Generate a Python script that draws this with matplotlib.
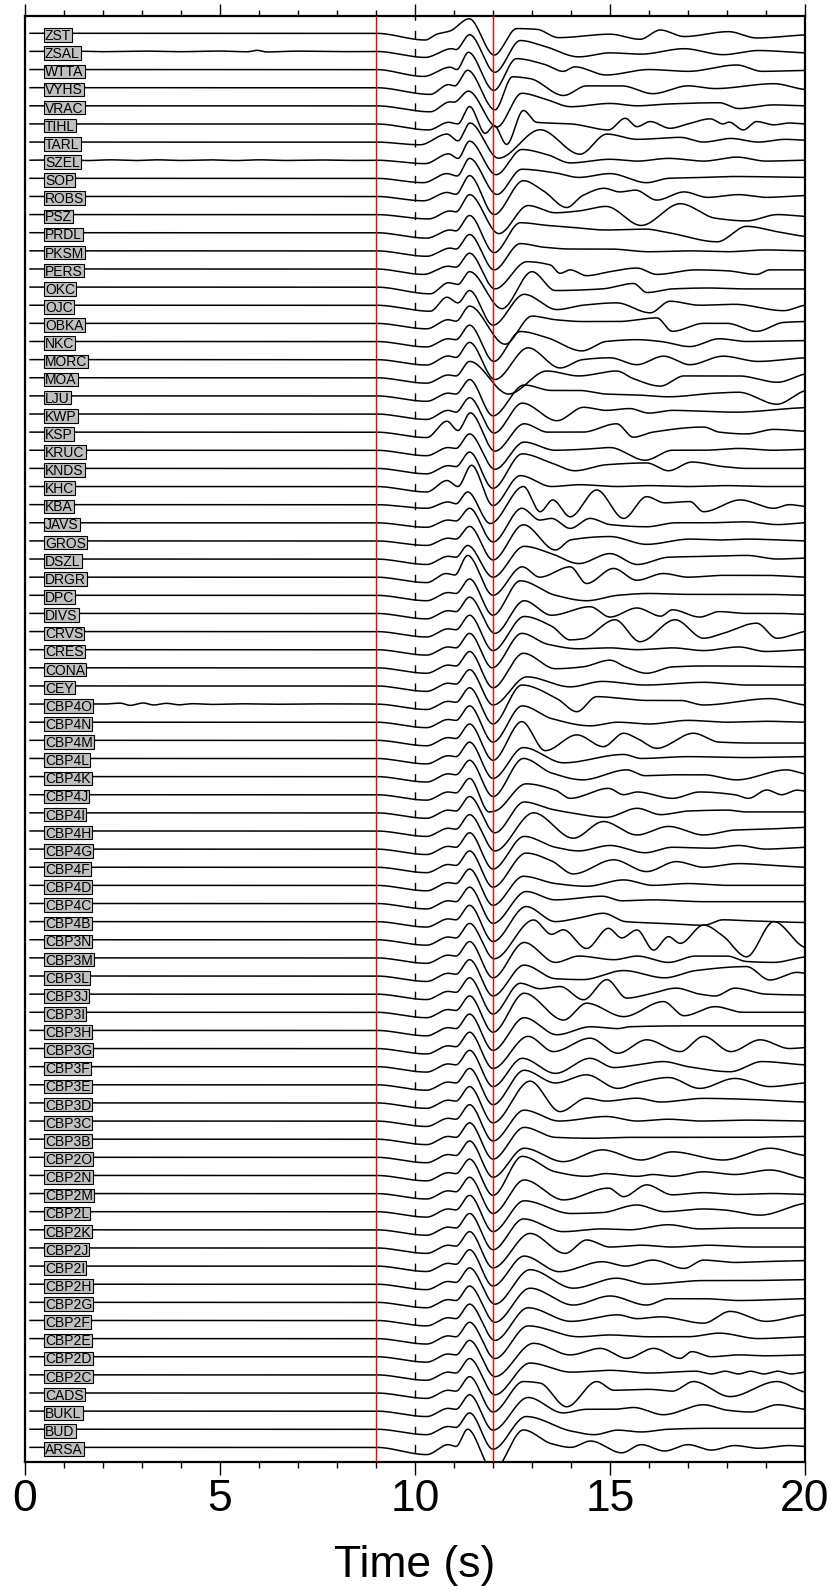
import numpy as np
import matplotlib
matplotlib.use("Agg")
import matplotlib.pyplot as plt
from matplotlib.patches import Rectangle
from matplotlib.ticker import MultipleLocator

plt.rcParams['font.family'] = ['Liberation Sans', 'DejaVu Sans']
plt.rcParams['lines.scale_dashes'] = False

# ---------------- data ----------------
stations = ["ZST", "ZSAL", "WTTA", "VYHS", "VRAC", "TIHL", "TARL", "SZEL", "SOP", "ROBS",
            "PSZ", "PRDL", "PKSM", "PERS", "OKC", "OJC", "OBKA", "NKC", "MORC", "MOA",
            "LJU", "KWP", "KSP", "KRUC", "KNDS", "KHC", "KBA", "JAVS", "GROS", "DSZL",
            "DRGR", "DPC", "DIVS", "CRVS", "CRES", "CONA", "CEY", "CBP4O", "CBP4N", "CBP4M",
            "CBP4L", "CBP4K", "CBP4J", "CBP4I", "CBP4H", "CBP4G", "CBP4F", "CBP4D", "CBP4C", "CBP4B",
            "CBP3N", "CBP3M", "CBP3L", "CBP3J", "CBP3I", "CBP3H", "CBP3G", "CBP3F", "CBP3E", "CBP3D",
            "CBP3C", "CBP3B", "CBP2O", "CBP2N", "CBP2M", "CBP2L", "CBP2K", "CBP2J", "CBP2I", "CBP2H",
            "CBP2G", "CBP2F", "CBP2E", "CBP2D", "CBP2C", "CADS", "BUKL", "BUD", "ARSA"]

# trace start time and quiet pre-event level
trace_start = 0.13
quiet_end = 9.0

# small pre-event wiggles (time s, amplitude in trace spacings)
pre_event = {
    "ZSAL": [(1.2, 0.02), (2.0, -0.015), (3.0, 0.02), (4.0, -0.015), (5.0, 0.02), (5.7, -0.02),
             (5.95, 0.06), (6.2, -0.03), (7.0, 0.015), (8.0, -0.015)],
    "SZEL": [(1.0, 0.02), (1.6, -0.02), (2.2, 0.02), (2.8, -0.02), (3.4, 0.02), (4.0, -0.015),
             (4.7, 0.02), (5.4, -0.02), (6.0, 0.02), (6.7, -0.015), (7.5, 0.015), (8.2, -0.015)],
    "CBP4O": [(2.0, 0.0), (2.44, 0.05), (2.7, -0.07), (3.03, 0.06), (3.3, -0.05), (3.63, 0.04),
              (3.95, -0.04), (4.3, 0.02), (4.8, -0.02), (5.5, 0.015), (6.5, -0.01), (7.5, 0.01)],
}

# extrema: (time s, amplitude in trace spacings)
picks = {
"ZST": [(10.26,-0.37),(10.56,-0.05),(10.9,0.13),(11.39,0.8),(12.03,-1.2),(12.61,0.26),(13.12,0.22),(13.68,-0.24),(15.0,-0.05),(15.77,-0.33),(16.29,0.18),(16.9,-0.18),(18.04,0.09),(18.76,-0.26),(20,-0.09)],
"ZSAL": [(10.26,-0.33),(10.94,0.15),(11.05,0.1),(11.4,0.92),(12.05,-1.15),(12.7,0.6),(13.3,0.3),(14.2,-0.3),(15.0,-0.08),(15.8,-0.15),(16.9,0.15),(17.9,-0.18),(18.8,0.05),(20,-0.08)],
"WTTA": [(10.22,-0.38),(10.9,0.13),(11.07,0.0),(11.37,0.95),(12.02,-1.15),(12.6,0.6),(13.3,0.3),(13.8,-0.1),(14.1,0.15),(14.9,-0.3),(16.0,0.0),(17.0,-0.1),(18.25,0.25),(18.9,-0.1),(20,-0.05)],
"VYHS": [(10.39,-0.37),(10.86,0.17),(11.02,0.1),(11.35,0.96),(12.05,-1.22),(12.5,0.6),(12.95,0.5),(13.81,-0.43),(14.4,0.1),(15.3,0.1),(16.1,-0.33),(17.0,0.1),(17.7,-0.05),(19.2,0.22),(20,-0.1)],
"VRAC": [(10.39,-0.33),(10.9,0.22),(11.0,0.2),(11.37,0.81),(12.1,-1.17),(12.74,0.69),(13.3,0.4),(14.0,-0.05),(15.0,0.13),(15.7,0.0),(16.5,0.1),(17.8,0.17),(18.3,-0.15),(19.2,0.05),(20,0.0)],
"TIHL": [(10.35,-0.33),(10.86,0.09),(11.1,0.0),(11.4,0.96),(11.8,-0.52),(12.03,-0.09),(12.35,-1.13),(12.78,0.74),(13.12,0.09),(13.4,0.05),(14.0,0.0),(14.96,-0.33),(15.39,0.31),(15.69,-0.15),(16.03,0.13),(16.54,-0.24),(17.0,0.0),(17.57,0.28),(17.9,0.0),(18.05,0.1),(18.42,-0.33),(18.76,0.13),(19.2,-0.05),(19.6,0.05),(20,0.0)],
"TARL": [(10.13,-0.15),(10.82,0.44),(11.1,0.07),(11.41,1.05),(12.14,-0.89),(13.21,0.68),(14.23,-0.67),(14.92,0.44),(15.7,0.15),(16.8,0.26),(17.4,0.0),(18.1,0.2),(18.8,0.0),(19.5,0.15),(20,0.1)],
"SZEL": [(10.26,-0.19),(10.86,0.35),(11.1,0.1),(11.4,1.05),(12.08,-0.8),(12.74,0.59),(13.4,0.3),(13.98,-0.15),(15.0,0.05),(15.7,-0.05),(16.5,0.1),(17.4,-0.05),(18.25,0.17),(19.0,-0.05),(20,0.0)],
"SOP": [(10.22,-0.24),(10.82,0.26),(11.08,0.13),(11.4,1.1),(12.1,-0.89),(12.74,0.5),(13.6,0.3),(14.2,0.05),(15.0,0.26),(15.94,-0.24),(16.5,0.0),(17.4,0.05),(18.2,0.1),(20,0.05)],
"ROBS": [(10.22,-0.24),(10.82,0.22),(11.05,0.12),(11.4,1.15),(12.03,-1.0),(12.78,0.87),(13.29,0.31),(13.89,-0.61),(14.3,0.05),(14.85,0.45),(15.25,0.25),(15.65,0.35),(16.2,-0.2),(16.9,0.25),(17.5,-0.05),(18.3,0.1),(19.0,-0.05),(20,0.05)],
"PSZ": [(10.35,-0.24),(10.9,0.2),(11.05,0.15),(11.4,1.1),(12.15,-1.05),(12.9,0.5),(13.6,0.1),(14.2,0.2),(14.9,0.45),(15.8,-0.6),(16.8,0.6),(17.7,-0.2),(18.5,-0.35),(19.3,0.0),(20,-0.1)],
"PRDL": [(10.3,-0.3),(10.9,0.15),(11.05,0.1),(11.4,0.95),(12.03,-1.1),(12.7,0.55),(13.4,0.4),(14.0,0.3),(14.9,0.15),(15.9,0.2),(16.5,0.0),(17.75,-0.5),(18.5,0.35),(19.3,0.05),(20,-0.2)],
"PKSM": [(10.3,-0.3),(10.9,0.15),(11.05,0.1),(11.4,0.9),(12.03,-1.05),(12.7,0.4),(13.3,0.2),(14.0,0.1),(15.0,0.1),(16.0,-0.05),(17.0,0.0),(18.0,-0.05),(19,0.05),(20,0.0)],
"PERS": [(10.22,-0.3),(10.85,0.15),(11.05,0.1),(11.4,0.87),(12.05,-1.1),(12.87,0.4),(13.47,0.22),(13.72,-0.24),(13.98,-0.05),(14.4,-0.37),(15.0,-0.15),(15.69,0.05),(16.2,-0.3),(17.2,-0.05),(18.0,-0.1),(18.76,-0.3),(19.1,-0.05),(20,-0.05)],
"OKC": [(10.39,-0.37),(10.86,0.24),(11.1,0.15),(11.4,0.85),(12.23,-1.19),(13.0,0.85),(13.6,-0.19),(14.8,-0.1),(15.6,0.2),(15.95,-0.3),(16.6,-0.1),(17.5,-0.05),(18.5,-0.1),(20,-0.1)],
"OJC": [(10.39,-0.33),(10.82,0.44),(11.1,0.13),(11.4,0.81),(12.0,-1.1),(12.8,0.6),(13.64,-0.24),(14.3,0.0),(15.17,0.13),(16.03,-0.42),(16.54,0.22),(17.3,0.0),(18.2,0.05),(19.45,-0.3),(20,0.0)],
"OBKA": [(10.3,-0.3),(10.85,0.2),(11.05,0.12),(11.4,0.95),(12.31,-1.15),(13.0,0.4),(13.6,0.2),(14.3,0.1),(15.2,0.1),(16.2,0.3),(16.6,-0.44),(17.4,0.0),(18.0,0.0),(18.76,-0.44),(19.45,0.05),(20,0.1)],
"NKC": [(10.3,-0.3),(10.85,0.15),(11.05,0.1),(11.4,0.9),(12.02,-1.1),(12.7,0.55),(13.4,0.2),(14.28,-0.52),(14.9,0.0),(15.7,0.1),(16.3,0.0),(17.05,-0.28),(17.8,0.15),(18.5,0.0),(20,0.05)],
"MORC": [(10.3,-0.3),(10.85,0.2),(11.05,0.12),(11.4,0.95),(12.05,-1.1),(12.9,0.65),(13.72,-0.46),(14.3,0.0),(15.0,0.1),(15.69,-0.28),(16.37,0.19),(17.05,-0.28),(17.9,0.19),(18.8,-0.1),(20,0.1)],
"MOA": [(10.3,-0.3),(10.85,0.15),(11.05,0.1),(11.4,0.9),(12.4,-0.9),(13.38,0.37),(14.2,0.1),(15.17,0.37),(15.6,-0.05),(16.29,-0.46),(16.9,0.1),(17.6,0.1),(18.3,0.1),(19.3,-0.25),(20,0.2)],
"LJU": [(10.3,-0.3),(10.85,0.15),(11.05,0.1),(11.4,0.9),(12.0,-1.1),(12.8,0.6),(13.5,0.3),(14.2,0.3),(14.9,0.1),(15.7,0.05),(16.5,-0.05),(17.7,0.15),(18.3,0.2),(19.28,-0.46),(20,0.28)],
"KWP": [(10.3,-0.3),(10.85,0.2),(11.05,0.1),(11.4,0.9),(12.03,-1.05),(12.75,0.6),(13.64,-0.37),(14.32,0.37),(14.9,0.2),(15.5,0.3),(16.0,0.05),(16.6,0.2),(17.4,0.15),(18.2,0.1),(20,0.35)],
"KSP": [(10.3,-0.3),(10.82,0.6),(11.1,0.09),(11.42,1.06),(12.05,-1.05),(12.8,0.46),(13.4,0.0),(14.3,0.0),(15.17,0.46),(15.6,-0.28),(16.1,0.0),(17.4,0.28),(17.8,0.0),(18.5,-0.1),(19.2,0.15),(20,0.05)],
"KRUC": [(10.3,-0.3),(10.85,0.15),(11.05,0.1),(11.4,0.9),(12.05,-1.05),(12.8,0.45),(13.6,0.0),(14.3,0.05),(15.0,0.15),(15.9,-0.55),(16.6,0.0),(17.4,0.0),(18.3,0.1),(19.2,0.0),(20,0.05)],
"KNDS": [(10.3,-0.3),(10.85,0.15),(11.05,0.1),(11.4,0.9),(12.0,-1.1),(12.75,0.8),(13.5,0.3),(14.1,-0.13),(14.9,0.2),(15.94,0.3),(16.5,-0.13),(17.1,0.35),(17.9,0.1),(18.5,0.0),(20,0.0)],
"KHC": [(10.3,-0.3),(10.82,0.33),(11.1,0.0),(11.45,1.17),(12.0,-1.05),(12.7,0.6),(13.5,0.0),(14.2,0.1),(15.2,0.0),(16.0,0.05),(17.0,0.0),(18,0.05),(19.0,0.0),(20,0.0)],
"KBA": [(10.3,-0.2),(10.85,0.15),(11.05,0.05),(11.35,0.7),(11.93,-1.04),(12.78,1.0),(13.21,-0.39),(13.53,0.26),(13.98,-0.67),(14.66,0.81),(15.35,-0.76),(15.94,0.44),(16.4,0.1),(17.05,0.17),(17.4,-0.39),(18.34,0.26),(19.2,-0.2),(19.6,0.0),(20,-0.1)],
"JAVS": [(10.3,-0.25),(10.85,0.15),(11.05,0.1),(11.4,0.8),(12.0,-1.06),(12.74,0.8),(13.2,0.15),(13.5,0.24),(13.98,-0.31),(14.49,0.24),(15.0,-0.1),(15.94,-0.22),(16.7,0.0),(17.5,0.0),(18.5,0.05),(19.3,-0.1),(20,0.0)],
"GROS": [(10.3,-0.25),(10.85,0.15),(11.05,0.1),(11.4,0.8),(12.0,-1.05),(12.78,0.89),(13.6,-0.5),(14.0,0.06),(15.0,0.24),(15.94,-0.19),(17.05,0.1),(17.8,0.05),(18.5,0.1),(20,0.0)],
"DSZL": [(10.3,-0.3),(10.85,0.15),(11.05,0.1),(11.35,0.75),(12.0,-1.0),(12.8,0.7),(13.5,0.3),(14.2,-0.25),(15.0,0.3),(15.7,-0.3),(16.5,0.1),(17.5,0.15),(18.5,0.2),(19.3,0.0),(20,0.05)],
"DRGR": [(10.3,-0.3),(10.8,0.2),(11.02,0.12),(11.35,1.2),(12.0,-1.0),(12.75,0.57),(13.2,0.0),(13.98,0.57),(14.4,-0.35),(15.09,0.48),(15.69,-0.17),(16.37,0.2),(17.0,0.0),(17.9,0.1),(19.0,0.1),(20,0.0)],
"DPC": [(10.3,-0.3),(10.85,0.15),(11.05,0.1),(11.4,0.9),(12.0,-1.1),(12.7,0.8),(13.6,0.0),(14.4,-0.3),(15.2,0.0),(16.0,0.1),(17.0,0.05),(18.0,0.05),(19.0,0.05),(20,0.0)],
"DIVS": [(10.3,-0.3),(10.85,0.15),(11.05,0.1),(11.4,0.9),(12.05,-1.1),(12.8,0.7),(13.5,-0.1),(14.49,0.37),(15.0,-0.2),(15.69,0.3),(16.3,-0.15),(16.6,0.2),(17.3,-0.2),(17.8,0.1),(18.5,0.0),(19.3,0.0),(20,-0.05)],
"CRVS": [(10.3,-0.3),(10.85,0.15),(11.05,0.1),(11.4,0.9),(12.0,-1.05),(12.8,0.83),(13.5,0.3),(13.98,-0.46),(14.3,-0.4),(15.13,0.65),(15.77,-0.56),(16.67,0.65),(17.4,-0.37),(17.9,-0.1),(18.76,0.46),(19.28,-0.37),(20,0.0)],
"CRES": [(10.3,-0.3),(10.85,0.15),(11.05,0.1),(11.4,0.9),(11.98,-1.0),(12.74,0.9),(13.4,0.3),(14.2,0.05),(15.0,0.1),(15.7,0.0),(16.6,0.1),(17.4,-0.05),(18.3,0.15),(19.0,-0.1),(20,0.0)],
"CONA": [(10.3,-0.3),(10.85,0.15),(11.05,0.1),(11.4,0.9),(12.0,-1.1),(12.78,0.8),(13.6,-0.05),(14.3,0.05),(15.0,0.42),(15.4,0.05),(15.94,-0.3),(16.6,0.05),(17.4,0.1),(18.3,0.1),(20,0.05)],
"CEY": [(10.3,-0.3),(10.85,0.15),(11.05,0.1),(11.4,0.9),(12.0,-1.05),(12.87,0.5),(13.98,-0.05),(14.8,0.25),(15.9,0.05),(17.4,0.2),(18.5,0.05),(20,0.05)],
"CBP4O": [(10.3,-0.3),(10.85,0.15),(11.05,0.1),(11.4,0.9),(12.0,-1.1),(12.74,1.05),(13.64,0.3),(14.15,-0.42),(14.66,0.41),(15.35,0.3),(15.94,0.2),(16.8,0.2),(17.4,-0.05),(19.1,0.3),(20,-0.05)],
"CBP4N": [(10.3,-0.3),(10.85,0.15),(11.05,0.1),(11.4,0.9),(12.0,-1.1),(12.75,0.9),(13.5,0.2),(14.5,-0.2),(15.2,0.0),(16.0,-0.1),(17.0,0.1),(18.0,0.0),(19,0.05),(20,0.0)],
"CBP4M": [(10.3,-0.3),(10.85,0.15),(11.05,0.1),(11.4,0.9),(12.0,-1.1),(12.74,1.03),(13.34,-0.57),(14.15,0.3),(14.83,-0.35),(15.35,0.39),(15.7,0.1),(16.2,-0.44),(17.14,0.39),(17.8,-0.1),(18.7,-0.15),(20,-0.15)],
"CBP4L": [(10.3,-0.3),(10.85,0.15),(11.05,0.1),(11.4,0.9),(12.0,-1.1),(12.78,0.6),(13.81,-0.24),(15.35,0.22),(15.8,0.0),(17.0,0.1),(18.5,0.05),(20,0.1)],
"CBP4K": [(10.3,-0.3),(10.85,0.15),(11.05,0.1),(11.4,0.9),(12.0,-1.1),(12.78,1.0),(13.5,0.2),(14.3,-0.18),(15.43,0.37),(15.9,0.05),(16.6,0.1),(17.4,0.1),(18.25,-0.18),(19.53,0.37),(20,0.15)],
"CBP4J": [(10.3,-0.3),(10.85,0.15),(11.05,0.1),(11.4,0.9),(11.9,-0.95),(12.05,-0.9),(12.85,0.6),(13.6,0.25),(13.98,-0.2),(14.96,0.35),(15.35,0.0),(15.7,0.15),(16.6,-0.2),(17.3,0.15),(18.2,0.0),(18.55,-0.2),(19.02,0.26),(19.4,0.0),(19.8,0.25),(20,0.2)],
"CBP4I": [(10.3,-0.3),(10.85,0.15),(11.05,0.1),(11.4,0.9),(12.05,-1.1),(12.8,0.6),(13.5,0.2),(14.0,0.0),(14.9,-0.25),(15.7,0.25),(16.3,-0.1),(17.0,0.1),(18.0,0.15),(18.5,0.05),(19.5,0.05),(20,0.05)],
"CBP4H": [(10.3,-0.3),(10.85,0.15),(11.05,0.1),(11.4,0.9),(12.05,-1.1),(13.04,1.0),(14.06,-0.4),(14.83,0.52),(15.69,-0.22),(16.5,0.25),(17.4,-0.22),(18.2,0.05),(19.0,0.1),(20,0.2)],
"CBP4G": [(10.3,-0.3),(10.85,0.15),(11.05,0.1),(11.4,0.9),(12.0,-1.1),(12.8,0.7),(13.6,0.1),(14.2,-0.1),(15.0,0.2),(15.9,-0.2),(16.6,0.1),(17.6,0.05),(18.3,0.2),(19.0,0.0),(20,0.1)],
"CBP4F": [(10.3,-0.3),(10.85,0.15),(11.05,0.1),(11.4,0.9),(12.0,-1.1),(12.85,0.78),(13.5,0.35),(14.06,-0.37),(15.09,0.41),(15.94,-0.24),(16.7,0.31),(17.4,0.0),(18.3,0.2),(19.2,0.1),(20,0.0)],
"CBP4D": [(10.3,-0.3),(10.85,0.15),(11.05,0.1),(11.4,0.9),(12.0,-1.1),(12.78,0.5),(13.6,0.1),(14.4,-0.05),(15.35,0.3),(16.1,0.0),(17.0,0.1),(18.0,0.0),(20,0.0)],
"CBP4C": [(10.3,-0.3),(10.85,0.15),(11.05,0.1),(11.4,0.9),(12.0,-1.1),(12.85,0.66),(13.6,0.2),(14.8,0.4),(15.3,0.15),(16.1,0.2),(17.4,0.1),(20,0.1)],
"CBP4B": [(10.3,-0.3),(10.85,0.15),(11.05,0.1),(11.4,0.9),(12.0,-1.1),(12.85,0.83),(13.6,0.0),(14.2,0.2),(14.83,0.46),(15.4,0.0),(16.4,-0.1),(17.4,-0.2),(17.9,0.1),(18.5,0.05),(20,-0.05)],
"CBP3N": [(10.3,-0.3),(10.85,0.15),(11.05,0.1),(11.4,0.9),(12.03,-1.05),(13.04,1.09),(13.5,0.3),(13.8,0.55),(14.4,-0.48),(14.96,0.63),(15.3,0.1),(15.69,0.54),(16.12,-0.57),(16.5,0.17),(16.8,-0.2),(17.4,0.81),(17.9,0.2),(18.5,-0.94),(19.2,1.0),(19.96,-0.39)],
"CBP3M": [(10.3,-0.3),(10.85,0.15),(11.05,0.1),(11.4,0.9),(12.0,-1.1),(12.8,0.85),(13.6,-0.25),(14.2,0.1),(15.1,-0.1),(15.7,0.1),(16.5,-0.25),(17.2,0.1),(18.0,0.1),(18.5,-0.2),(19.2,-0.25),(20,0.05)],
"CBP3L": [(10.3,-0.3),(10.85,0.15),(11.05,0.1),(11.4,0.9),(12.0,-1.1),(12.8,0.6),(13.6,-0.15),(14.3,-0.2),(15.35,0.3),(16.4,-0.1),(17.2,0.3),(18.5,0.52),(19.1,-0.22),(19.8,0.2),(20,0.15)],
"CBP3J": [(10.3,-0.3),(10.85,0.15),(11.05,0.1),(11.4,0.9),(12.0,-1.1),(12.7,0.6),(13.2,0.3),(13.72,0.42),(14.32,-0.31),(14.92,0.8),(15.43,-0.22),(16.0,0.0),(16.7,0.33),(17.3,0.0),(17.7,-0.1),(18.2,0.33),(19.0,0.0),(20,-0.05)],
"CBP3I": [(10.3,-0.3),(10.85,0.15),(11.05,0.1),(11.4,0.9),(12.0,-1.1),(12.8,1.05),(13.81,-0.43),(14.4,0.5),(15.35,-0.24),(16.37,0.59),(16.9,-0.19),(17.7,0.31),(18.4,0.0),(20,0.0)],
"CBP3H": [(10.3,-0.3),(10.85,0.15),(11.05,0.1),(11.4,0.9),(12.0,-1.1),(12.8,0.7),(13.64,-0.24),(14.5,0.2),(15.2,0.1),(15.5,0.2),(17.0,0.25),(18.5,0.25),(20,0.25)],
"CBP3G": [(10.3,-0.3),(10.85,0.15),(11.05,0.1),(11.4,0.9),(12.0,-1.1),(12.9,0.67),(13.55,-0.17),(14.49,0.57),(15.2,-0.26),(15.94,0.48),(16.8,-0.17),(17.4,0.67),(18.1,-0.17),(18.85,0.48),(19.6,0.0),(20,0.05)],
"CBP3F": [(10.3,-0.3),(10.85,0.15),(11.05,0.1),(11.4,0.9),(12.0,-1.1),(12.75,0.46),(13.6,-0.37),(14.49,0.46),(15.1,-0.05),(15.7,0.1),(16.37,0.28),(17.0,0.0),(18.08,-0.28),(18.9,0.28),(20,0.1)],
"CBP3E": [(10.3,-0.3),(10.85,0.15),(11.05,0.1),(11.4,0.9),(12.0,-1.1),(12.8,0.8),(13.6,0.1),(14.4,0.55),(15.2,-0.2),(15.7,0.1),(16.5,0.4),(17.3,-0.2),(18.2,0.35),(19.1,-0.1),(20,0.1)],
"CBP3D": [(10.3,-0.3),(10.85,0.15),(11.05,0.1),(11.4,0.9),(12.0,-1.1),(12.95,1.2),(13.72,-0.48),(14.4,0.26),(14.9,0.1),(15.69,0.26),(16.3,0.05),(17.4,0.25),(18.5,0.2),(20,0.05)],
"CBP3C": [(10.3,-0.3),(10.85,0.15),(11.05,0.1),(11.4,0.9),(12.0,-1.1),(12.8,0.6),(13.7,0.0),(14.9,0.25),(15.7,0.0),(16.5,0.1),(17.3,0.0),(18.5,0.05),(20,0.0)],
"CBP3B": [(10.3,-0.3),(10.85,0.15),(11.05,0.1),(11.4,0.9),(12.0,-1.1),(12.8,0.65),(13.6,0.1),(14.5,0.05),(15.5,0.1),(17.0,0.1),(18.5,0.1),(20,0.15)],
"CBP2O": [(10.3,-0.3),(10.85,0.15),(11.05,0.1),(11.4,0.9),(12.0,-1.1),(12.8,0.5),(13.8,-0.24),(14.8,0.41),(15.8,-0.15),(16.6,0.3),(17.9,-0.15),(19.1,0.5),(20,0.1)],
"CBP2N": [(10.3,-0.3),(10.85,0.15),(11.05,0.1),(11.4,0.9),(12.0,-1.1),(12.75,1.05),(13.6,0.2),(14.4,-0.05),(14.9,0.1),(15.7,-0.05),(16.1,0.05),(16.6,-0.05),(17.4,0.2),(18.2,0.05),(19.1,0.3),(20,-0.15)],
"CBP2M": [(10.3,-0.3),(10.85,0.15),(11.05,0.1),(11.4,0.9),(12.0,-1.1),(12.8,0.75),(13.81,-0.35),(14.96,0.3),(15.35,-0.17),(15.94,0.48),(16.6,-0.07),(17.4,0.05),(18.25,-0.05),(19.2,0.0),(20,-0.05)],
"CBP2L": [(10.3,-0.3),(10.85,0.15),(11.05,0.1),(11.4,0.9),(12.0,-1.1),(12.8,0.6),(14.0,-0.1),(14.8,-0.05),(15.69,0.37),(16.4,0.0),(17.4,0.15),(17.9,0.1),(18.85,-0.19),(20,0.46)],
"CBP2K": [(10.3,-0.3),(10.85,0.15),(11.05,0.1),(11.4,0.9),(12.0,-1.1),(12.78,0.6),(13.8,-0.1),(14.8,0.05),(15.5,0.0),(16.5,0.28),(17.3,0.05),(18.3,0.1),(20,0.1)],
"CBP2J": [(10.3,-0.3),(10.85,0.15),(11.05,0.1),(11.4,0.9),(12.0,-1.1),(12.95,0.8),(13.85,-0.3),(14.4,0.44),(15.0,0.05),(15.8,0.15),(16.6,0.05),(17.5,0.15),(18.7,0.05),(20,0.05)],
"CBP2I": [(10.3,-0.3),(10.85,0.15),(11.05,0.1),(11.4,0.9),(12.0,-1.1),(12.8,0.55),(13.7,-0.31),(14.8,0.24),(15.4,0.0),(16.1,0.33),(16.9,-0.13),(17.4,0.33),(18.2,0.2),(19,0.25),(20,0.3)],
"CBP2H": [(10.3,-0.3),(10.85,0.15),(11.05,0.1),(11.4,0.9),(12.05,-1.1),(12.95,0.8),(14.06,-0.22),(15.17,0.33),(15.94,0.0),(17.4,0.2),(18.5,0.2),(20,0.25)],
"CBP2G": [(10.3,-0.3),(10.85,0.15),(11.05,0.1),(11.4,0.9),(12.05,-1.1),(12.95,0.78),(14.06,-0.15),(15.0,0.35),(15.94,-0.15),(16.5,0.2),(17.4,0.2),(18.3,0.1),(20,0.2)],
"CBP2F": [(10.3,-0.3),(10.85,0.15),(11.05,0.1),(11.4,0.9),(12.05,-1.1),(12.9,0.7),(14.0,-0.05),(15.2,0.31),(15.7,0.1),(16.3,0.2),(17.4,-0.15),(18.08,0.5),(19.0,-0.05),(20,0.31)],
"CBP2E": [(10.3,-0.3),(10.85,0.15),(11.05,0.1),(11.4,0.9),(12.05,-1.1),(12.9,0.7),(14.2,0.1),(15.0,0.2),(16.0,0.1),(17.0,0.1),(17.8,0.3),(18.8,0.0),(20,0.1)],
"CBP2D": [(10.3,-0.3),(10.85,0.15),(11.05,0.1),(11.4,0.9),(12.05,-1.1),(13.04,0.74),(13.98,0.1),(14.75,0.46),(15.43,-0.09),(16.12,0.46),(16.8,-0.09),(17.1,0.28),(17.6,0.0),(18.3,0.1),(19,0.05),(20,0.1)],
"CBP2C": [(10.3,-0.3),(10.85,0.15),(11.05,0.1),(11.4,0.9),(12.05,-1.1),(12.95,0.65),(14.0,0.15),(15.0,0.25),(16.0,0.1),(17.2,0.2),(17.6,0.05),(17.95,0.2),(18.3,0.05),(18.6,0.2),(18.95,0.05),(19.3,0.2),(19.65,0.05),(20,0.15)],
"CADS": [(10.3,-0.3),(10.85,0.15),(11.05,0.1),(11.4,0.9),(12.0,-1.05),(12.78,0.63),(13.2,0.55),(13.89,-0.76),(14.66,0.63),(15.1,0.15),(16.0,0.2),(16.6,0.1),(17.14,0.63),(18.08,-0.2),(19.28,0.63),(20,0.05)],
"BUKL": [(10.3,-0.3),(10.85,0.15),(11.05,0.1),(11.4,0.9),(12.0,-1.05),(12.9,0.75),(13.8,-0.1),(14.4,0.1),(15.1,0.1),(15.6,0.2),(16.37,-0.2),(17.4,0.35),(18.0,0.05),(18.6,-0.05),(19.3,0.35),(20,0.1)],
"BUD": [(10.3,-0.3),(10.85,0.15),(11.05,0.1),(11.4,0.9),(12.0,-1.1),(12.85,0.7),(14.0,-0.1),(14.6,-0.3),(15.2,-0.05),(15.8,-0.15),(16.5,0.0),(17.5,0.05),(18.5,0.05),(20,0.05)],
"ARSA": [(10.3,-0.4),(10.85,0.15),(11.05,0.05),(11.35,1.0),(12.0,-1.3),(12.78,0.96),(13.5,0.2),(14.0,0.0),(14.5,0.35),(15.3,-0.3),(15.8,0.15),(16.4,-0.2),(17.0,0.15),(17.6,-0.15),(18.2,0.1),(18.8,-0.05),(19.6,0.1),(20,0.05)],
}

red_times = [9.0, 12.0]
dashed_times = [10.0]
x_range = (0, 20)


def pchip(x, y, xn):
    x = np.asarray(x, float)
    y = np.asarray(y, float)
    h = np.diff(x)
    d = np.diff(y) / h
    m = np.zeros_like(y)
    for k in range(1, len(x) - 1):
        if d[k - 1] * d[k] > 0:
            w1 = 2 * h[k] + h[k - 1]
            w2 = h[k] + 2 * h[k - 1]
            m[k] = (w1 + w2) / (w1 / d[k - 1] + w2 / d[k])
    m[-1] = 0.5 * d[-1]
    idx = np.clip(np.searchsorted(x, xn, side='right') - 1, 0, len(x) - 2)
    hk = h[idx]
    s = (xn - x[idx]) / hk
    h00 = 2 * s**3 - 3 * s**2 + 1
    h10 = s**3 - 2 * s**2 + s
    h01 = -2 * s**3 + 3 * s**2
    h11 = s**3 - s**2
    return h00 * y[idx] + h10 * hk * m[idx] + h01 * y[idx + 1] + h11 * hk * m[idx + 1]


# ---------------- figure ----------------
W, H, DPI = 833, 1586, 100
fig = plt.figure(figsize=(W / DPI, H / DPI), dpi=DPI)
ax_left, ax_right, ax_top, ax_bot = 25, 805, 15.7, 1461.5
ax = fig.add_axes([ax_left / W, 1 - ax_bot / H, (ax_right - ax_left) / W, (ax_bot - ax_top) / H])

n = len(stations)
ylo, yhi = -0.78, n - 1 + 0.97
ax.set_xlim(*x_range)
ax.set_ylim(ylo, yhi)

tt = np.linspace(trace_start, x_range[1], 5000)
for i, s in enumerate(stations):
    pos = n - 1 - i
    pts = [(trace_start, 0.0)] + pre_event.get(s, []) + [(quiet_end, 0.0)] + picks[s]
    pts = sorted(pts)
    t = [p[0] for p in pts]
    a = [p[1] for p in pts]
    ax.plot(tt, pos + pchip(t, a, tt), color='black', lw=1.1, zorder=2,
            solid_joinstyle='round')

for tr in red_times:
    ax.axvline(tr, color='#ff0000', lw=1.0, zorder=3)

# dashed marker line: dash length tied to trace spacing
unit_pt = (ax_bot - ax_top) / (yhi - ylo) * 72.0 / DPI
on, off = 0.44 * unit_pt, 0.56 * unit_pt
for td in dashed_times:
    ax.axvline(td, color='black', lw=1.0, zorder=3,
               linestyle=(0.47 * unit_pt, (on, off)))

# ticks / axes
ax.xaxis.set_major_locator(MultipleLocator(5))
ax.xaxis.set_minor_locator(MultipleLocator(1))
ax.tick_params(axis='x', which='both', direction='out', top=True, bottom=True,
               labeltop=False, labelsize=32, width=1.0, pad=3.5)
ax.tick_params(axis='x', which='major', length=9)
ax.tick_params(axis='x', which='minor', length=4.5)
ax.set_yticks([])
for sp in ax.spines.values():
    sp.set_linewidth(1.6)
ax.set_xlabel("Time (s)", fontsize=32, labelpad=18)

# station labels in grey boxes
label_x = 0.51
label_size = 10
texts = []
for i, s in enumerate(stations):
    pos = n - 1 - i
    texts.append(ax.text(label_x, pos - 0.37, s, fontsize=label_size, ha='left', va='baseline',
                         color='black', zorder=5))

fig.canvas.draw()
renderer = fig.canvas.get_renderer()
inv = ax.transData.inverted()
cap = 0.716 * label_size * DPI / 72.0
for i, txt in enumerate(texts):
    pos = n - 1 - i
    bb = txt.get_window_extent(renderer)
    base_y = ax.transData.transform((0, pos - 0.37))[1]
    x0, y0 = inv.transform((bb.x0 - 1.3, base_y - 1.8))
    x1, y1 = inv.transform((bb.x1 + 1.3, base_y + cap + 1.8))
    ax.add_patch(Rectangle((x0, y0), x1 - x0, y1 - y0, facecolor='#c0c0c0',
                           edgecolor='black', lw=0.8, zorder=4))

fig.savefig("out.png", dpi=DPI)
